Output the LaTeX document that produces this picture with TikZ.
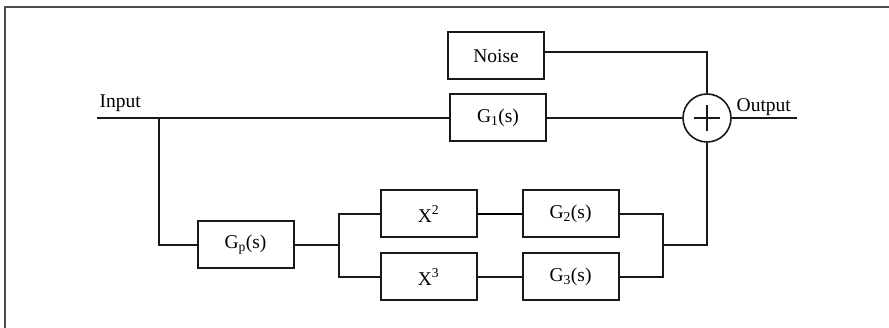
\documentclass[tikz,border=0pt]{standalone}
\usepackage{fontspec}
\setmainfont{Liberation Serif}
\begin{document}
\begin{tikzpicture}[x=1pt,y=-1pt,
  wire/.style={line width=2pt,draw=black!90},
  thinwire/.style={line width=1.4pt,draw=black},
  blk/.style={draw=black!90,line width=2pt,rectangle,minimum width=96pt,minimum height=47pt,inner sep=0pt,font=\fontsize{19.5}{22}\selectfont},
  lbl/.style={inner sep=0pt,font=\fontsize{19.5}{22}\selectfont},
  sumnode/.style={draw=black!90,line width=1.6pt,circle,minimum size=48pt,inner sep=0pt}]
\useasboundingbox (0,0) rectangle (889,328);
\fill[white] (0,0) rectangle (889,328);
\draw[line width=2pt,draw=black!70] (5,328) -- (5,7) -- (889,7);

\node[blk] (noise) at (496,56) {Noise};
\node[blk] (g1) at (498,118) {G\textsubscript{1}(s)};
\node[sumnode] (sum) at (707,118) {};
\node[blk] (gp) at (245.5,245) {G\textsubscript{p}(s)};
\node[blk] (x2) at (428.5,214) {X\textsuperscript{2}};
\node[blk] (x3) at (428.5,277) {X\textsuperscript{3}};
\node[blk] (g2) at (570.5,214) {G\textsubscript{2}(s)};
\node[blk] (g3) at (570.5,277) {G\textsubscript{3}(s)};

\node[lbl,anchor=base west] (inlbl) at (99.5,107.5) {Input};
\node[lbl,anchor=base west] (outlbl) at (736.5,112) {Output};

\coordinate (in) at (96.5,118);
\coordinate (br) at (159,118);
\coordinate (out) at (796.5,118);
\coordinate (split) at (338.5,245);
\coordinate (merge) at (663,245);

% plus sign
\draw[line width=1.3pt,draw=black!90] ([xshift=-13pt]sum.center) -- ([xshift=13pt]sum.center);
\draw[line width=1.3pt,draw=black!90] ([yshift=-13pt]sum.center) -- ([yshift=13pt]sum.center);

\draw[wire] (in) -- (g1.west);
\draw[wire] (g1.east) -- (sum.west);
\draw[wire] (sum.east) -- (out);
\draw[wire] ([yshift=4pt]noise.east) -| (sum.north);
\draw[wire] (br) |- (gp.west);
\draw[wire] (gp.east) -- (split);
\draw[wire] (x2.west) -| (split) |- (x3.west);
\draw[thinwire] (x2.east) -- (g2.west);
\draw[wire] (x3.east) -- (g3.west);
\draw[wire] (g2.east) -| (merge) |- (g3.east);
\draw[wire] (merge) -| (sum.south);
\end{tikzpicture}
\end{document}
